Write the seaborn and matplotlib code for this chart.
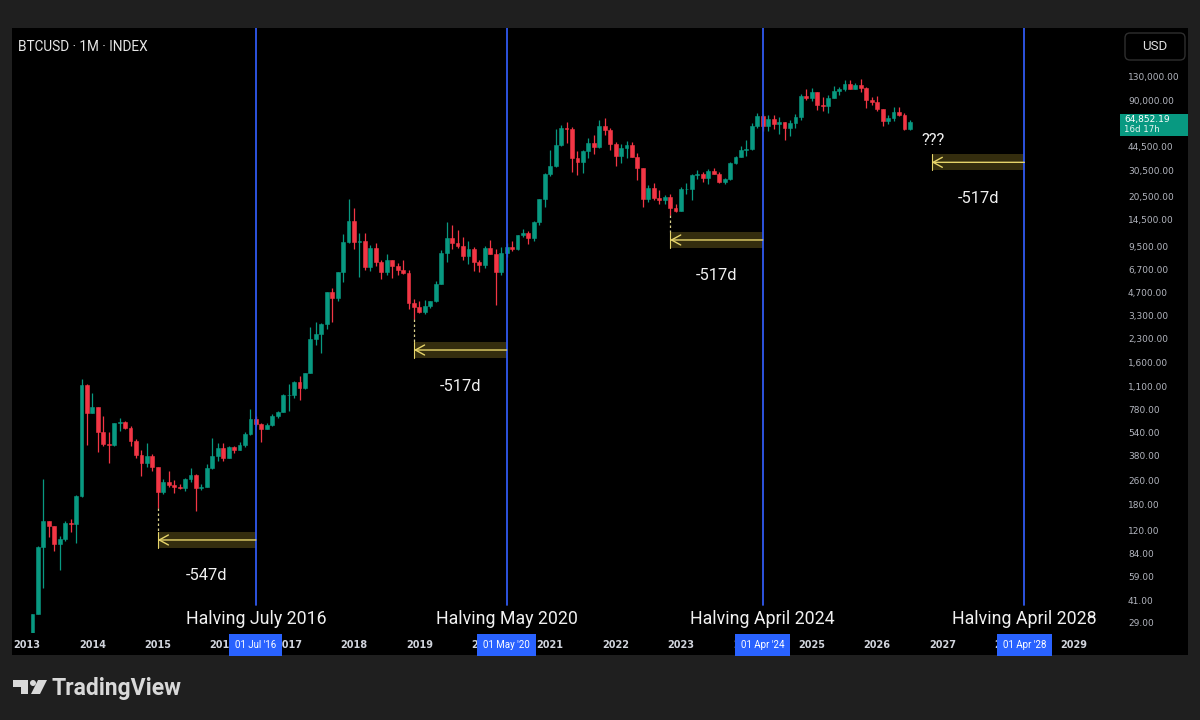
import numpy as np
import pandas as pd
import seaborn as sns
import matplotlib
matplotlib.use("Agg")
import matplotlib.pyplot as plt
import matplotlib.transforms as mtransforms
from matplotlib.patches import Rectangle, FancyBboxPatch, Circle, Polygon
from matplotlib.ticker import FixedLocator, FuncFormatter, NullLocator

# monthly BTCUSD candles, Feb 2013 .. Jul 2026
opens = [
    20.4, 33.4, 93, 139, 129, 97, 106, 135, 133, 204, 1130,                      # 2013
    732, 800, 550, 457, 447, 630, 640, 586, 478, 387, 338, 378,                  # 2014
    320, 218, 254, 244, 236, 230, 264, 284, 230, 236, 314, 377,                  # 2015
    430, 368, 437, 416, 448, 531, 674, 624, 575, 608, 700, 742,                  # 2016
    963, 965, 1190, 1080, 1350, 2300, 2480, 2870, 4730, 4340, 6470, 10200,       # 2017
    14150, 10200, 10300, 6930, 9240, 7500, 6390, 7730, 7010, 6630, 6370, 4020,   # 2018
    3740, 3460, 3830, 4110, 5350, 8570, 10820, 10080, 9600, 8290, 9150, 7540,    # 2019
    7190, 9350, 8540, 6410, 8630, 9450, 9140, 11350, 11650, 10780, 13800, 19700, # 2020
    28990, 33110, 45140, 58800, 57700, 37300, 35040, 41460, 47100, 43820, 61300, 57000,  # 2021
    46300, 38500, 43200, 45500, 37700, 31800, 19900, 23300, 20000, 19400, 20500, 17200,  # 2022
    16500, 23100, 23150, 28500, 29250, 27200, 30500, 29200, 25900, 26950, 34650, 37700,  # 2023
    42300, 42600, 61200, 71300, 60600, 67500, 62700, 64600, 59000, 63300, 70200, 96400,  # 2024
    93400, 102400, 84300, 82500, 94200, 104600, 107100, 115700, 108200, 114000, 109500, 90400,  # 2025
    87500, 78600, 66000, 69000, 75500, 72500, 58500,                             # 2026
]
highs = [
    33.4, 95, 266, 140, 129, 110, 139, 144, 208, 1240, 1150,
    1000, 805, 705, 545, 630, 680, 650, 600, 490, 415, 460, 390,
    320, 265, 300, 260, 248, 268, 315, 286, 245, 335, 500, 465,
    460, 445, 440, 470, 550, 780, 704, 626, 627, 720, 755, 980,
    1150, 1200, 1290, 1350, 2760, 3000, 2920, 4750, 5000, 6470, 11500, 19700,
    17200, 11800, 11700, 9750, 9990, 7770, 8500, 7760, 7410, 7680, 6600, 4240,
    4100, 4190, 4140, 5640, 9070, 13800, 13200, 12330, 10950, 10370, 9500, 7740,
    9580, 10500, 9190, 9460, 10070, 10400, 11450, 12480, 12070, 14100, 19880, 29300,
    41950, 58330, 61780, 64900, 59600, 41300, 42300, 50500, 52900, 67000, 69000, 59100,
    47900, 45800, 48200, 47500, 40000, 31900, 24600, 25200, 22800, 21000, 21400, 18400,
    23900, 25200, 29200, 31000, 29800, 31400, 31800, 30200, 27500, 35000, 38400, 44700,
    48900, 64000, 73800, 72800, 71900, 72000, 70000, 65000, 66500, 73600, 99800, 108300,
    109600, 102500, 95000, 97900, 111900, 110500, 123200, 124400, 117900, 126200, 111200, 94600,
    96000, 79500, 72000, 81000, 82000, 74000, 66500,
]
lows = [
    19.1, 33.2, 50, 109, 88, 66, 102, 117, 100, 200, 450,
    730, 400, 445, 340, 440, 555, 570, 440, 365, 280, 320, 300,
    170, 212, 235, 215, 228, 220, 254, 162, 225, 236, 310, 350,
    350, 365, 394, 414, 435, 525, 605, 470, 570, 604, 680, 740,
    752, 920, 890, 1070, 1350, 2100, 1840, 2670, 2970, 4110, 5500, 10000,
    9100, 6000, 6600, 6560, 7060, 5800, 6100, 5880, 6100, 6200, 3650, 3130,
    3400, 3390, 3690, 4080, 5330, 7540, 9110, 9360, 7710, 7300, 6550, 6430,
    6860, 8440, 3850, 6150, 8110, 8900, 8980, 10990, 9880, 10410, 13200, 17600,
    28130, 32300, 44950, 47000, 30000, 28800, 29300, 37300, 39600, 43300, 53300, 42000,
    32900, 34300, 37200, 37600, 26700, 17600, 18800, 19600, 18200, 18200, 15500, 16300,
    16500, 21400, 19600, 26900, 25800, 24800, 28900, 25400, 24900, 26600, 34100, 37600,
    38500, 41900, 59100, 56500, 56600, 58500, 53500, 49000, 52500, 58900, 66800, 90500,
    89200, 78200, 76600, 74400, 93400, 98200, 105100, 107300, 107300, 103500, 80600, 84500,
    77000, 60500, 63000, 66000, 71000, 57000, 57500,
]
closes = [
    33.4, 93, 139, 129, 97, 106, 135, 133, 204, 1130, 732,
    800, 550, 457, 447, 630, 640, 586, 478, 387, 338, 378, 320,
    218, 254, 244, 236, 230, 264, 284, 230, 236, 314, 377, 430,
    368, 437, 416, 448, 531, 674, 624, 575, 608, 700, 742, 963,
    965, 1190, 1080, 1350, 2300, 2480, 2870, 4730, 4340, 6470, 10200, 14150,
    10200, 10300, 6930, 9240, 7500, 6390, 7730, 7010, 6630, 6370, 4020, 3740,
    3460, 3830, 4110, 5350, 8570, 10820, 10080, 9600, 8290, 9150, 7540, 7190,
    9350, 8540, 6410, 8630, 9450, 9140, 11350, 11650, 10780, 13800, 19700, 28990,
    33110, 45140, 58800, 57700, 37300, 35040, 41460, 47100, 43820, 61300, 57000, 46300,
    38500, 43200, 45500, 37700, 31800, 19900, 23300, 20000, 19400, 20500, 17200, 16500,
    23100, 23150, 28500, 29250, 27200, 30500, 29200, 25900, 26950, 34650, 37700, 42300,
    42600, 61200, 71300, 60600, 67500, 62700, 64600, 59000, 63300, 70200, 96400, 93400,
    102400, 84300, 82500, 94200, 104600, 107100, 115700, 108200, 114000, 109500, 90400, 87500,
    78600, 66000, 69000, 75500, 72500, 58500, 64852.19,
]

halving_dates = ["2016-07-01", "2020-05-01", "2024-04-01", "2028-04-01"]
halving_labels = ["Halving July 2016", "Halving May 2020", "Halving April 2024", "Halving April 2028"]
halving_tags = ["01 Jul '16", "01 May '20", "01 Apr '24", "01 Apr '28"]
low_dates = ["2015-01-01", "2018-12-01", "2022-11-01", "2026-11-01"]
day_labels = ["-547d", "-517d", "-517d", "-517d"]
arrow_levels = [104, 1936, 10530, 34800]

price_ticks = [130000, 90000, 44500, 30500, 20500, 14500, 9500, 6700, 4700, 3300, 2300,
               1600, 1100, 780, 540, 380, 260, 180, 120, 84, 59, 41, 29]
year_ticks = list(range(2013, 2030))
last_price = 64852.19
countdown = "16d 17h"

UP, DOWN = "#089981", "#f23645"
FRAME = "#1f1f1f"

sns.set_theme(style="dark", rc={"axes.facecolor": "black", "figure.facecolor": FRAME,
                                "axes.grid": False})
plt.rcParams["font.family"] = ["Roboto", "DejaVu Sans"]


def dec_year(d):
    d = pd.to_datetime(d)
    return d.year + (d.month - 1) / 12


months = pd.date_range("2013-02-01", periods=len(closes), freq="MS")
df = pd.DataFrame({"open": opens, "high": highs, "low": lows, "close": closes}, index=months)
df["x"] = dec_year(df.index)
cols = np.where(df["close"] >= df["open"], UP, DOWN)

fig = plt.figure(figsize=(12, 7.2), dpi=100)
pix = mtransforms.Affine2D().scale(1 / 1200, -1 / 720).translate(0, 1) + fig.transFigure

# black chart panel
fig.add_artist(Rectangle((12, 28), 1176, 627, transform=pix, fc="black", ec="none", zorder=-10))

ax = fig.add_axes([12 / 1200, (720 - 633) / 720, 1098 / 1200, 605 / 720])
ax.set_facecolor("black")
ax.set_yscale("log")

# candles
ax.vlines(df["x"], df["low"], df["high"], colors=cols, linewidth=0.9, zorder=2)
ax.bar(df["x"], (df["close"] - df["open"]).abs(), bottom=np.minimum(df["open"], df["close"]),
       width=0.7 / 12, color=cols, edgecolor=cols, linewidth=0.4, zorder=3)

ax.set_xlim(2012.7706, 2029.5596)
ax.set_ylim(24.84, 275100)

blend = mtransforms.blended_transform_factory(ax.transData, ax.transAxes)
hx = [dec_year(d) for d in halving_dates]
lx = [dec_year(d) for d in low_dates]

for x, lab, tag in zip(hx, halving_labels, halving_tags):
    ax.axvline(x, ymin=0.0463, ymax=1, color="#3059f0", lw=1.3, zorder=5)
    ax.text(x, 0.0231, lab, transform=blend, ha="center", va="center",
            color="#f0f0f0", fontsize=12.8, zorder=6)
    ax.text(x, -0.0198, tag, transform=blend, ha="center", va="center", color="white",
            fontsize=7, zorder=10, clip_on=False,
            bbox=dict(boxstyle="square,pad=0.6", fc="#2962ff", ec="none"))

# cycle-low -> halving boxes
for i, (x0, x1, lvl, txt) in enumerate(zip(lx, hx, arrow_levels, day_labels)):
    bot, top = lvl / 1.13, lvl * 1.13
    ax.add_patch(Rectangle((x0, bot), x1 - x0, top - bot, fc="#f0d040", alpha=0.22,
                           ec="none", zorder=4))
    ax.plot([x0, x0], [bot, top], color="#e6d46a", lw=0.8, zorder=5)
    ax.annotate("", xy=(x0, lvl), xytext=(x1, lvl),
                arrowprops=dict(arrowstyle="->,head_length=0.55,head_width=0.3",
                                color="#e6d46a", lw=1.0, shrinkA=0, shrinkB=0), zorder=5)
    ax.annotate(txt, xy=((x0 + x1) / 2, lvl), xytext=(0, -36), textcoords="offset pixels",
                ha="center", va="center", color="#f0f0f0", fontsize=11.8)
    if low_dates[i] in df.index:
        low_p = df.loc[low_dates[i], "low"]
        ax.plot([x0, x0], [low_p, top], color="#d8cf8a", lw=0.9, ls=(0, (2, 2)), zorder=4)

ax.annotate("???", xy=(lx[-1], arrow_levels[-1]), xytext=(1, 22), textcoords="offset pixels",
            ha="center", va="center", color="#f0f0f0", fontsize=12)

# axes styling
ax.yaxis.tick_right()
ax.yaxis.set_major_locator(FixedLocator(price_ticks))
ax.yaxis.set_minor_locator(NullLocator())
ax.yaxis.set_major_formatter(FuncFormatter(lambda v, _: f"{v:,.2f}"))
ax.tick_params(axis="y", length=0, pad=13, labelsize=6.5, labelcolor="#b2b5be")
ax.set_xticks(year_ticks)
ax.set_xticklabels([str(y) for y in year_ticks])
ax.tick_params(axis="x", length=0, pad=5, labelsize=7, labelcolor="#d1d4dc")
for lbl in ax.get_xticklabels():
    lbl.set_fontweight("bold")
    lbl.set_family("DejaVu Sans")
for lbl in ax.get_yticklabels():
    lbl.set_family("DejaVu Sans")
sns.despine(ax=ax, left=True, bottom=True, right=True, top=True)

# last price tag on the price scale
yblend = mtransforms.blended_transform_factory(ax.transAxes, ax.transData)
ax.add_patch(Rectangle((1.0091, last_price / 1.243), 0.0619,
                       last_price * 1.129 - last_price / 1.243, transform=yblend,
                       fc=UP, ec="none", clip_on=False, zorder=8))
ax.text(1.0128, last_price * 1.045, f"{last_price:,.2f}", transform=yblend, ha="left",
        va="center", color="white", fontsize=6.5, family="DejaVu Sans", zorder=9)
ax.text(1.0128, last_price / 1.133, countdown, transform=yblend, ha="left",
        va="center", color="#e8f5f2", fontsize=6.2, family="DejaVu Sans", zorder=9)

# header and chrome
fig.text(18 / 1200, 1 - 47 / 720, "BTCUSD · 1M · INDEX", ha="left", va="center",
         color="#e6e6e6", fontsize=9.8)
fig.add_artist(FancyBboxPatch((1125, 33), 60, 27, boxstyle="round,pad=0,rounding_size=5",
                              transform=pix, fc="black", ec="#2e2e2e", lw=1.0))
fig.text(1155 / 1200, 1 - 47 / 720, "USD", ha="center", va="center", color="#e0e0e0",
         fontsize=9.5)

# TradingView logo
logo_c = "#d9d9d9"
fig.add_artist(Polygon([(12.5, 680), (28, 680), (28, 694), (21, 694), (21, 686.5),
                        (12.5, 686.5)], closed=True, transform=pix, fc=logo_c, ec="none"))
fig.add_artist(Circle((33, 683), 3.0, transform=pix, fc=logo_c, ec="none"))
fig.add_artist(Polygon([(38, 680), (47, 680), (40, 694), (31, 694)], closed=True,
                       transform=pix, fc=logo_c, ec="none"))
fig.text(52 / 1200, 1 - 688 / 720, "TradingView", ha="left", va="center", color=logo_c,
         fontsize=16.5, fontweight="bold")

fig.savefig("out.png", dpi=100, facecolor=FRAME)
